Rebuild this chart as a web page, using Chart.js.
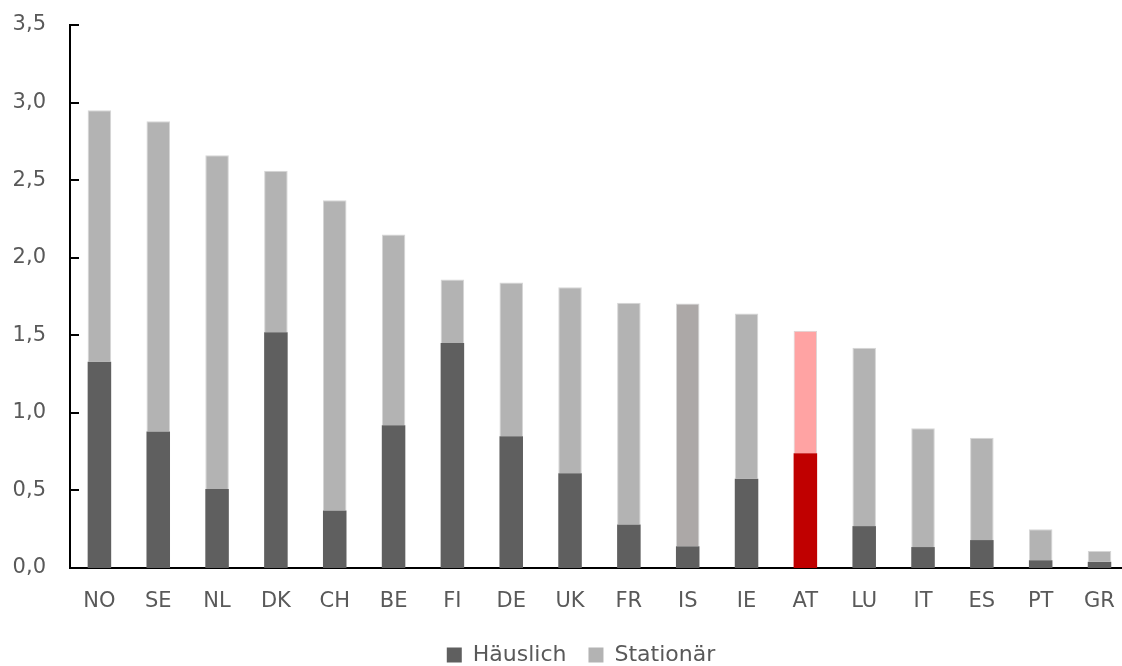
<!DOCTYPE html>
<html>
<head>
<meta charset="utf-8">
<script src="https://cdn.jsdelivr.net/npm/chart.js@4/dist/chart.umd.min.js"></script>
<style>
  html, body { margin: 0; padding: 0; background: #ffffff; overflow: hidden; }
  #wrap { position: absolute; left: 0; top: 0; width: 1136px; height: 666px; }
</style>
</head>
<body>
<div id="wrap"><canvas id="c"></canvas></div>
<script>
const categories = ['NO','SE','NL','DK','CH','BE','FI','DE','UK','FR','IS','IE','AT','LU','IT','ES','PT','GR'];
const haeuslich  = [1.33, 0.88, 0.51, 1.52, 0.37, 0.92, 1.45, 0.85, 0.61, 0.28, 0.14, 0.575, 0.74, 0.27, 0.135, 0.18, 0.05, 0.04];
const stationaer = [1.62, 2.00, 2.15, 1.04, 2.00, 1.23, 0.41, 0.99, 1.20, 1.43, 1.565, 1.065, 0.79, 1.15, 0.765, 0.66, 0.20, 0.07];
const yTickLabels = ['0,0','0,5','1,0','1,5','2,0','2,5','3,0','3,5'];
const seriesNames = ['Häuslich','Stationär'];

const darkGrey = '#5f5f5f', lightGrey = '#b3b3b3';
const darkColors = categories.map(c => c === 'AT' ? '#c00000' : darkGrey);
const lightColors = categories.map(c => c === 'AT' ? '#ffa3a3' : (c === 'IS' ? '#aca8a7' : lightGrey));

const inwardTicks = {
  id: 'inwardTicks',
  afterDatasetsDraw(chart) {
    const y = chart.scales.y, ctx = chart.ctx;
    const x0 = chart.chartArea.left;
    ctx.save();
    ctx.strokeStyle = '#000000';
    ctx.lineWidth = 2;
    y.ticks.forEach(t => {
      if (t.value === 0) return;
      const py = Math.round(y.getPixelForValue(t.value));
      ctx.beginPath();
      ctx.moveTo(x0, py);
      ctx.lineTo(x0 + 9, py);
      ctx.stroke();
    });
    ctx.restore();
  }
};

const legendShift = {
  id: 'legendShift',
  afterLayout(chart) {
    const lg = chart.legend;
    if (!lg) return;
    const dx = 14, dy = 10;
    lg.left += dx; lg.right += dx;
    lg.top += dy; lg.bottom += dy;
  }
};

const font = "'DejaVu Sans', sans-serif";
const textColor = '#595959';

new Chart(document.getElementById('c'), {
  type: 'bar',
  data: {
    labels: categories,
    datasets: [
      { label: seriesNames[0], data: haeuslich, backgroundColor: darkColors, borderWidth: 0 },
      { label: seriesNames[1], data: stationaer, backgroundColor: lightColors, borderColor: '#d6d6d6', borderWidth: 1 }
    ]
  },
  options: {
    responsive: true,
    maintainAspectRatio: false,
    animation: false,
    layout: { padding: { top: 25, right: 2, left: 0, bottom: 0 } },
    datasets: { bar: { barPercentage: 0.4, categoryPercentage: 1.0 } },
    plugins: {
      legend: {
        position: 'bottom',
        labels: {
          generateLabels: () => [
            { text: seriesNames[0], fillStyle: darkGrey, strokeStyle: darkGrey, lineWidth: 0, fontColor: textColor, datasetIndex: 0 },
            { text: seriesNames[1], fillStyle: lightGrey, strokeStyle: lightGrey, lineWidth: 0, fontColor: textColor, datasetIndex: 1 }
          ],
          boxWidth: 15, boxHeight: 15, padding: 22,
          color: textColor,
          font: { family: font, size: 22 }
        }
      },
      tooltip: { enabled: false }
    },
    scales: {
      x: {
        stacked: true,
        grid: { display: false, drawTicks: false },
        border: { display: true, color: '#000000', width: 2 },
        ticks: { color: textColor, font: { family: font, size: 21 }, padding: 21, maxRotation: 0 },
        afterFit(s) { s.height = 44; }
      },
      y: {
        stacked: true,
        min: 0, max: 3.5,
        grid: { display: false, drawTicks: true, tickLength: 20 },
        border: { display: true, color: '#000000', width: 2 },
        ticks: {
          stepSize: 0.5,
          color: textColor,
          font: { family: font, size: 21 },
          padding: 4,
          callback: (v, i) => yTickLabels[i]
        },
        afterFit(s) { s.width = 70; }
      }
    }
  },
  plugins: [inwardTicks, legendShift]
});
</script>
</body>
</html>
